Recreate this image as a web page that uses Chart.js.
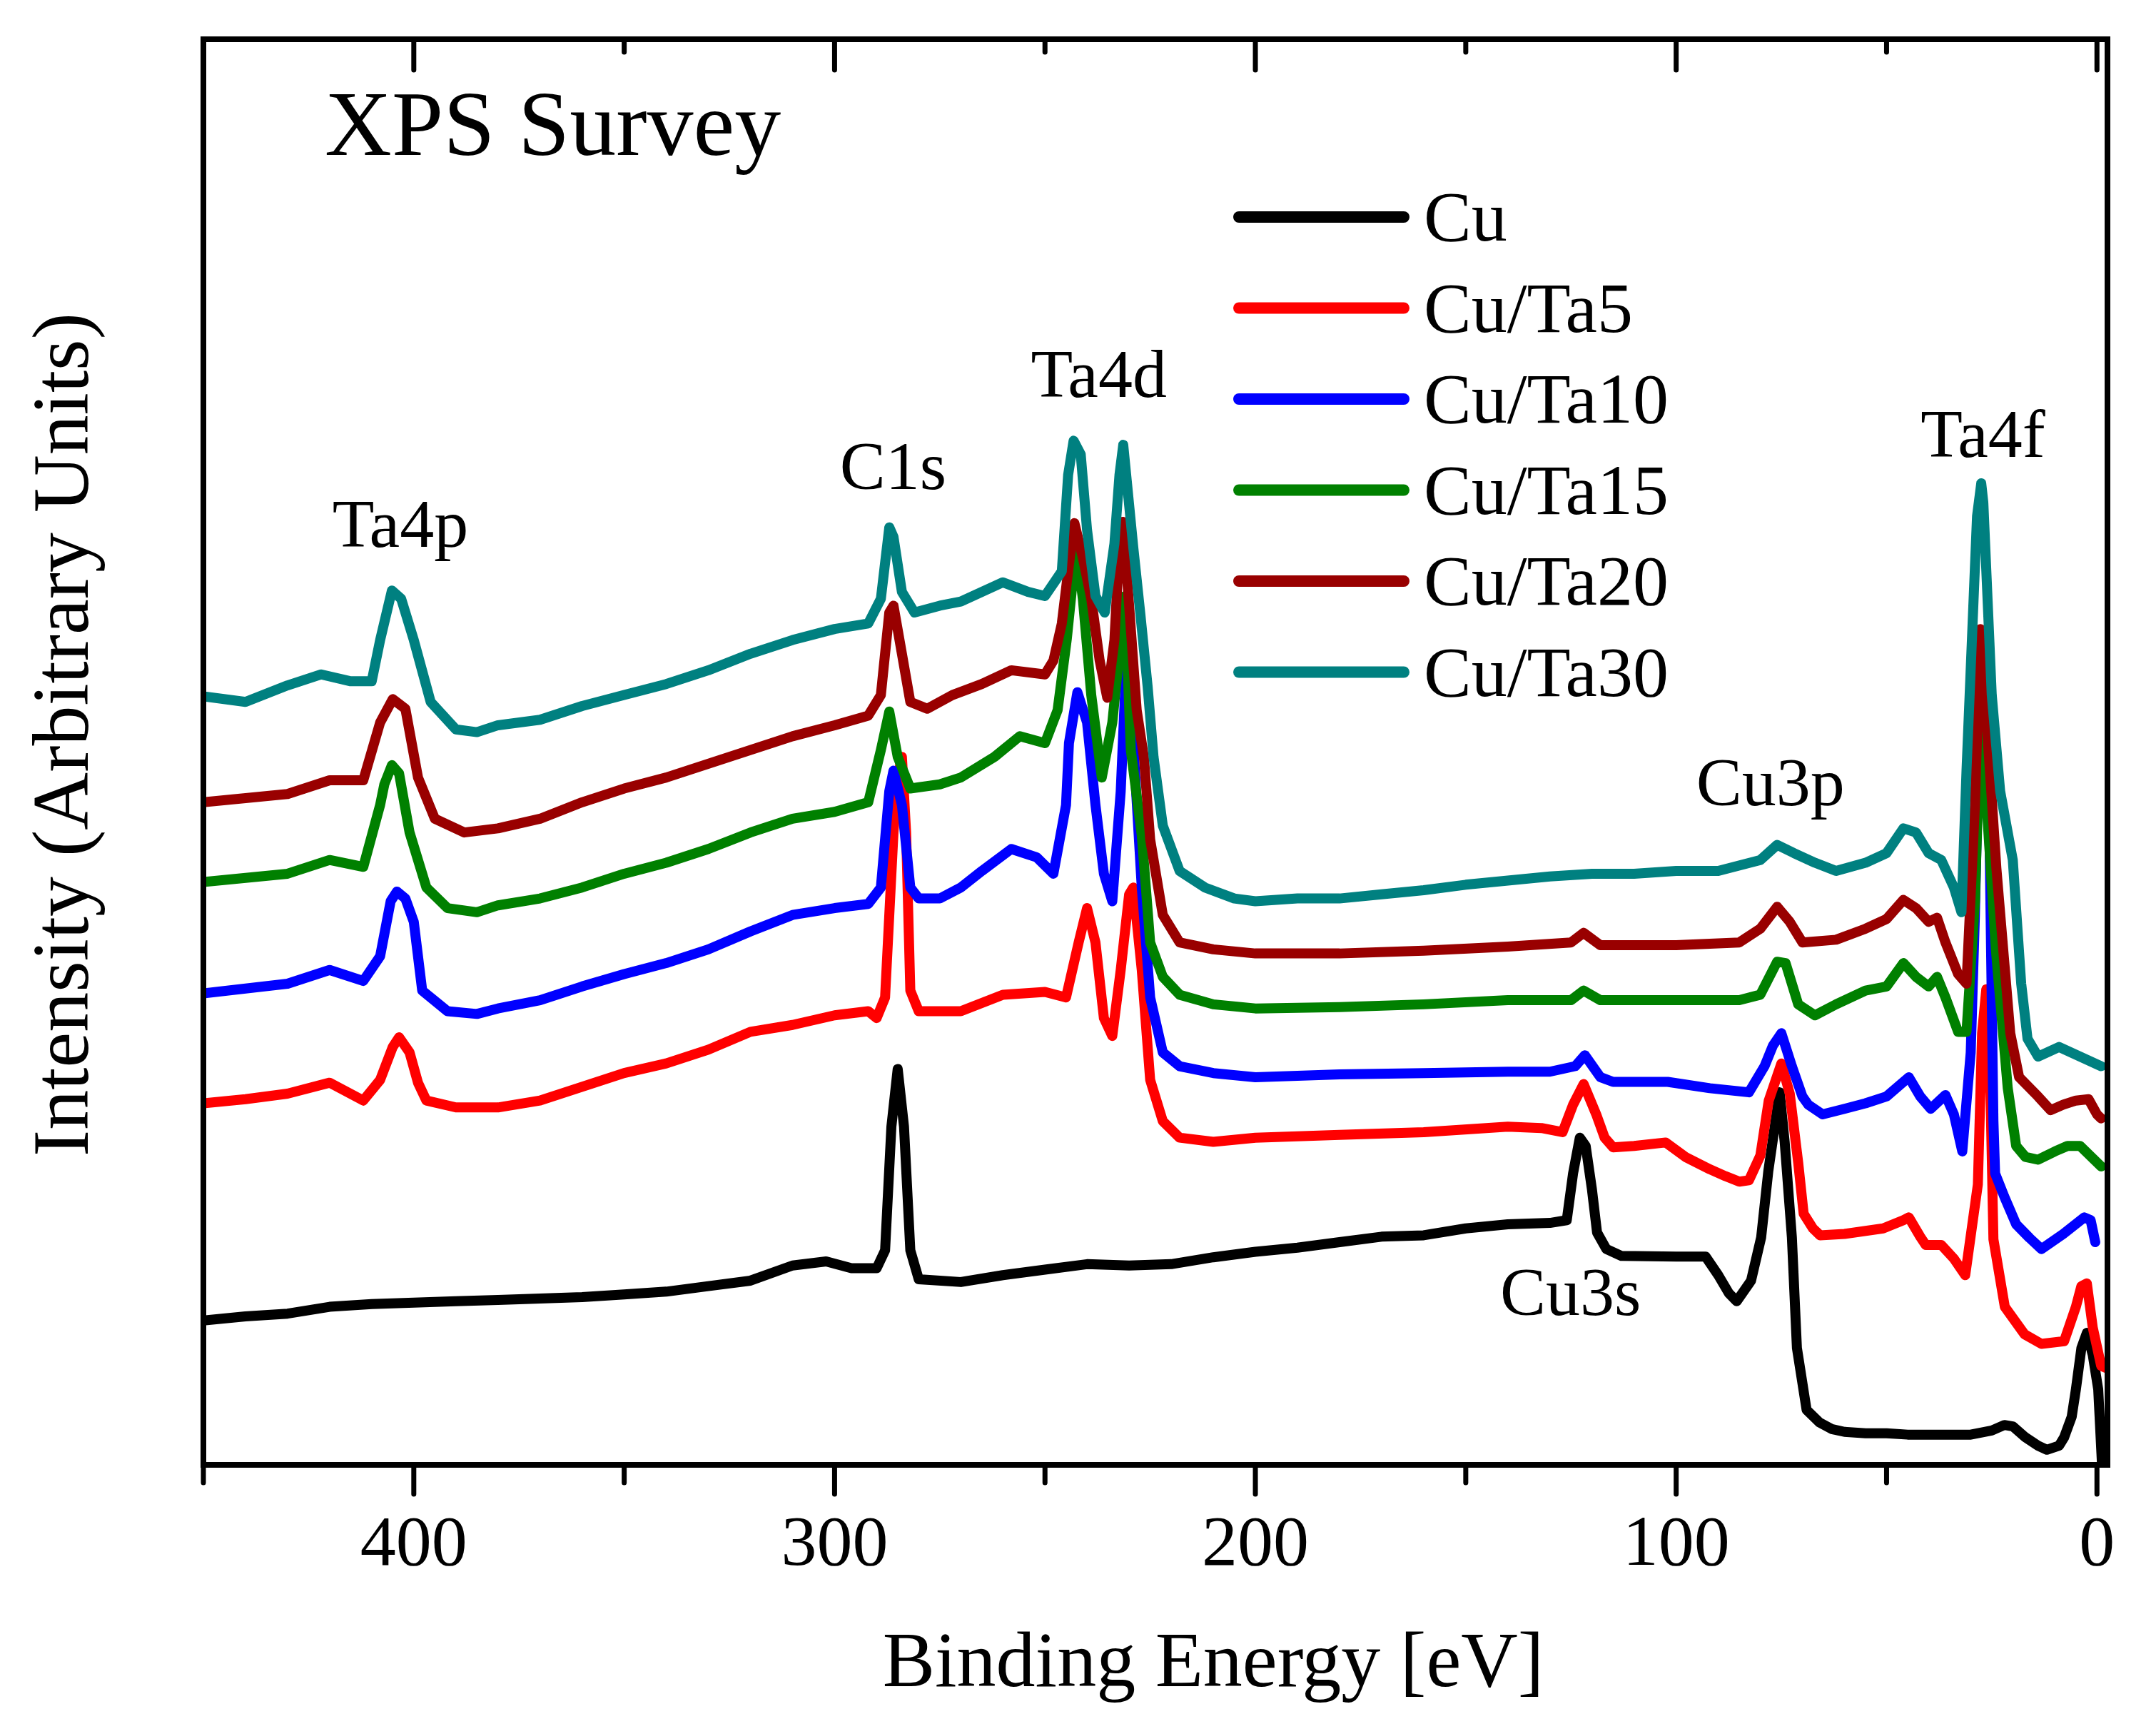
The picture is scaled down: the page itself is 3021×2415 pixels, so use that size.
<!DOCTYPE html>
<html>
<head>
<meta charset="utf-8">
<title>XPS Survey</title>
<script src="https://cdn.jsdelivr.net/npm/chart.js@4.4.1/dist/chart.umd.min.js"></script>
<style>
  html, body { margin: 0; padding: 0; background: #ffffff; }
  canvas { display: block; }
</style>
</head>
<body>
<canvas id="xpsChart" width="3021" height="2415" style="width:3021px;height:2415px"></canvas>
<script>
// --- Data: binding energy [eV] and intensity (arbitrary units) per sample ---
const seriesLabels = ['Cu', 'Cu/Ta5', 'Cu/Ta10', 'Cu/Ta15', 'Cu/Ta20', 'Cu/Ta30'];
const seriesColors = ['#000000', '#ff0000', '#0000ff', '#008000', '#990000', '#008080'];

const cuEnergy = [450,440,430,420,410,400,390,380,370,360,350,340,330,320,310,302,296,290,288,286.5,285,283.5,282,280,270,260,250,240,230,220,210,200,190,180,170,160,150,140,130,126,124.5,122.9,121.5,120,118.8,116.6,113,100,93,90,87.5,85.6,82.2,79.8,78.1,75.4,74.2,72.5,71.3,69,66,63,60,55,50,45,40,35,30,25,22,20,17,14,11.9,9,7.8,6,5,3.7,2.4,1,-0.3,-1.2];
const cuCounts = [105,108,110,115,117,118,119,120,121,122,124,126,130,134,145,148,143,143,156,246,288,246,156,135,133,138,142,146,145,146,151,155,158,162,166,167,172,175,176,178,212,238,232,200,169,157,152,151.5,151.5,138,125,119,134,165.5,213.7,271,234.5,165.5,85,40,31,26,24,23,23,22,22,22,22,25,29,28,20,14,11,14,20,35,55,85,96,80,55,0];

const ta5Energy = [450,440,430,420,412,408,405,403.5,401,399,397,390,380,370,360,350,340,330,320,310,300,292,290,288,286,285,284,283,282,280,270,260,250,245,242,240,238,236,234,232,230,229,227,225,222,218,210,200,180,160,140,132,127,124.5,122,119,117,115,110,102.5,97.8,92,88.3,85,82.7,80,78,75,73,71,69.7,67.5,65.8,60,50.8,46,44.7,42,40.7,37,34,31.3,28.3,27.3,26.3,25.5,24.6,21.9,17.2,13.2,7.8,5,3.7,2.4,1,-1,-2.5];
const ta5Counts = [263,266,270,278,265,280,304,311,300,278,265,260,260,265,275,285,292,302,315,320,327,330,325,340,460,500,515,460,345,330,330,342,344,340,380,405,380,325,312,360,415,420,360,280,250,238,235,238,240,242,246,245,242,262,277,255,238,231,232,234.5,224,215,210,206,207,225,265,292,270,220,182.6,172,167,168,172,178,180,166,160,160,150,138,204,314,346,300,164,115,95,88,90,115,130,132,100,72,70];

const ta10Energy = [450,430,420,412,408,405.5,404,402,400,398,392,385,380,370,360,350,340,330,320,310,300,292,289,287,286,284,282,280,275,270,265,258,252,248,245,244.3,242.3,240,238,236,234,232,231,230.6,229.3,227,225,222,218,210,200,180,160,140,130,124,121.7,118,115,102,92,82.7,79,77,75,72.5,70,68.6,65.2,60,55,50,44.7,42,39.5,36,34,32,30,29,28,27.3,25.5,24.6,24.2,22,19.2,16,13.2,8,3,1.5,0.4];
const ta10Counts = [343,350,360,352,370,410,417,412,395,345,330,328,332,338,348,357,365,375,388,400,405,408,420,490,505,480,420,412,412,420,432,448,442,430,480,525,562,540,480,430,410,490,560,589,540,420,340,300,290,285,282,284,285,286,286,290,298,282,278.6,278.6,274,271,290,305,314,290,268,262,255,259,263,268,282,268,259,269,255,228,300,400,540,590,450,250,212,195,175,165,157,168,180,178,162];

const ta15Energy = [450,430,420,412,408,407,405.2,403.5,401,397,392,385,380,370,360,350,340,330,320,310,300,292,289,287,285,282,275,270,262,256,250,247,244.8,243.5,242.6,241,239,236.5,234,232,231,229.6,227,225,222,218,210,200,180,160,140,125,122,118,100,85,80,76,74,71,67,62,55,50,46,43,40,38,36,33,31,29,27.5,26,24,21.2,19.2,17,14,10,7,4,2,0,-1];
const ta15Counts = [424,430,440,435,480,495,509,503,460,420,405,402,407,412,420,430,438,448,460,470,475,482,520,548,515,492,495,500,515,530,525,549,601,640,669,630,560,500,540,600,632,520,458,380,355,342,335,332,333,335,338,338,345,338,338,338,342,366,365,335,327,335,345,348,365,355,348,355,340,315,315,410,561,470,374,274,232,224,222,228,232,232,226,220,217];

const ta20Energy = [450,430,420,412,408,405,402,399,395,388,380,370,360,350,340,330,320,310,300,292,289,287,286,284,282,278,272,265,258,250,248,246,244.3,243,241,239,237,235.2,233.5,232.3,231.5,230,228.2,226.5,225,222,218,210,200,180,160,140,125,122,118,100,85,80,76,73,70,62,55,50,46,43,40,38,36,33,31,29,27.7,25.2,23.9,20.6,18.5,14,11,8,5,2,0,-1];
const ta20Counts = [482,488,498,498,540,557,550,500,470,460,463,470,482,492,500,510,520,530,538,545,560,620,625,590,555,550,560,568,578,575,585,612,655,685,660,630,585,558,600,670,686,625,549,515,455,400,380,375,372,372,374,377,380,387,378,378,380,390,406,395,380,382,390,397,411,405,395,398,380,357,350,480,608,494,434,314,282,268,258,262,265,266,255,252];

const ta30Energy = [450,440,430,422,415,410,408,405.2,403,400,396,390,385,380,370,360,350,340,330,320,310,300,292,289,287,286,284,281,275,270,265,260,254,250,246,244.5,243.2,241.5,240,238,235.8,233.5,232.3,231.4,229,227.3,225.6,224.2,222,218,212,205,200,190,180,170,160,150,140,130,120,110,100,90,80,76,72,67,62,55,50,46,43,40,37,34,32.2,31,28.5,27.5,27,25,23,20,18,16.5,14,9,4,-1];
const ta30Counts = [559,555,567,575,570,570,600,636,630,600,555,535,533,538,542,552,560,568,578,590,600,608,612,630,682,675,635,620,625,628,635,642,635,632,650,720,745,735,680,632,620,670,720,742,667,618,566,515,465,432,420,412,410,412,412,415,418,422,425,428,430,430,432,432,440,451,445,438,432,438,445,463,460,445,440,420,402,505,690,714,700,560,490,440,350,310,297,304,297,290];

const seriesEnergy = [cuEnergy, ta5Energy, ta10Energy, ta15Energy, ta20Energy, ta30Energy];
const seriesCounts = [cuCounts, ta5Counts, ta10Counts, ta15Counts, ta20Counts, ta30Counts];

// --- Axis ticks ---
const majorTicks = [400, 300, 200, 100, 0];
const minorTicks = [450, 350, 250, 150, 50];

// --- Peak annotations (label, energy, intensity at text baseline) ---
const peakLabels = ['Ta4p', 'C1s', 'Ta4d', 'Ta4f', 'Cu3p', 'Cu3s'];
const peakEnergy = [403.2, 286.1, 237.2, 27.1, 77.6, 125.1];
const peakLevel = [668, 710, 777, 733, 480, 109];

const FONT = '"Liberation Serif", "Times New Roman", serif';

// zip energy/intensity pairs into chart points
function toPoints(energy, counts) {
    const n = Math.min(energy.length, counts.length);
    const pts = [];
    for (let i = 0; i < n; i++) pts.push({ x: energy[i], y: counts[i] });
    return pts;
}

// --- Frame, ticks, labels, legend (drawn on top of the curves) ---
const decorPlugin = {
    id: 'decor',
    afterDatasetsDraw(chart) {
        const { ctx, chartArea: a, scales: { x, y } } = chart;
        ctx.save();

        // peak labels
        ctx.fillStyle = '#000';
        ctx.font = '96px ' + FONT;
        ctx.textAlign = 'center';
        ctx.textBaseline = 'alphabetic';
        peakLabels.forEach((t, i) => {
            ctx.fillText(t, x.getPixelForValue(peakEnergy[i]), y.getPixelForValue(peakLevel[i]));
        });

        // plot frame
        ctx.strokeStyle = '#000';
        ctx.lineWidth = 8;
        ctx.strokeRect(a.left, a.top, a.right - a.left, a.bottom - a.top);

        // ticks: outward on bottom, inward on top
        ctx.lineWidth = 7;
        ctx.lineCap = 'round';
        const tick = (v, down, up) => {
            const px = x.getPixelForValue(v);
            ctx.beginPath();
            ctx.moveTo(px, a.bottom); ctx.lineTo(px, a.bottom + down);
            ctx.moveTo(px, a.top); ctx.lineTo(px, a.top + up);
            ctx.stroke();
        };
        majorTicks.forEach(v => tick(v, 41, 43));
        minorTicks.forEach(v => tick(v, 25, 18));

        // chart title inside the frame
        ctx.font = '130px ' + FONT;
        ctx.textAlign = 'left';
        ctx.fillText('XPS Survey', 455, 217);

        // legend
        ctx.font = '100px ' + FONT;
        ctx.lineWidth = 16;
        seriesLabels.forEach((name, i) => {
            const ly = 304 + i * 127.5;
            ctx.strokeStyle = seriesColors[i];
            ctx.beginPath();
            ctx.moveTo(1736, ly); ctx.lineTo(1967, ly);
            ctx.stroke();
            ctx.fillText(name, 1995, ly + 33);
        });

        // axis titles
        ctx.font = '110px ' + FONT;
        ctx.textAlign = 'center';
        ctx.fillText('Binding Energy [eV]', 1700, 2362);

        ctx.translate(123, 1029);
        ctx.rotate(-Math.PI / 2);
        ctx.font = '112px ' + FONT;
        ctx.fillText('Intensity (Arbitrary Units)', 0, 0);
        ctx.restore();
    }
};

// --- Chart ---
const datasets = seriesLabels.map((name, i) => ({
    label: name,
    data: toPoints(seriesEnergy[i], seriesCounts[i]),
    borderColor: seriesColors[i],
    borderWidth: 14,
    borderJoinStyle: 'round',
    borderCapStyle: 'round',
    pointRadius: 0,
    tension: 0,
    fill: false,
    order: seriesLabels.length - i   // later samples drawn on top
}));

new Chart(document.getElementById('xpsChart').getContext('2d'), {
    type: 'line',
    data: { datasets },
    options: {
        responsive: false,
        devicePixelRatio: 1,
        animation: false,
        layout: { padding: { left: 285, right: 68, top: 55, bottom: 0 } },
        plugins: { legend: { display: false }, tooltip: { enabled: false } },
        scales: {
            x: {
                type: 'linear',
                reverse: true,
                min: -2.5,
                max: 450,
                grid: { display: false, drawTicks: false },
                border: { display: false },
                afterBuildTicks: (scale) => { scale.ticks = majorTicks.map(v => ({ value: v })); },
                afterFit: (scale) => { scale.height = 363; },
                ticks: {
                    color: '#000',
                    padding: 54,
                    maxRotation: 0,
                    autoSkip: false,
                    font: { family: FONT, size: 100 }
                }
            },
            y: {
                type: 'linear',
                display: false,
                min: 0,
                max: 1037
            }
        }
    },
    plugins: [decorPlugin]
});
</script>
</body>
</html>
